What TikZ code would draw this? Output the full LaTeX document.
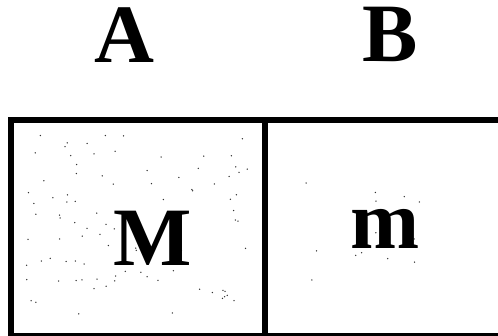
\documentclass[tikz,border=0pt]{standalone}
\usepackage{fontspec}
\setmainfont{Liberation Serif}
\usetikzlibrary{positioning}

\begin{document}
\begin{tikzpicture}[
        x=1pt, y=-1pt,
        wall/.style={draw=black, line width=6pt},
        letter/.style={anchor=base, inner sep=0pt, text height=55pt, text depth=0pt,
            font=\fontsize{83}{83}\bfseries\selectfont},
        speck/.style={fill=black!80, draw=none}
    ]
        \useasboundingbox (0,0) rectangle (498,335);
        \clip (0,0) rectangle (498,335);

        % labels above the cells
        \node[letter] (labelA) at (124.5,62) {A};
        \node[letter] (labelB) at (390,61) {B};

        % the two cells
        \draw[wall] (11,119.5) rectangle (264.5,336);
        \draw[wall] (264.5,119.5) rectangle (502,336);

        % speckles in cell A
        \pgfmathsetseed{4127}
        \foreach \i in {1,...,95}
            \fill[speck] ({22+228*rnd},{134+180*rnd}) circle (0.75);
        % speckles around m
        \foreach \i in {1,...,16}
            \fill[speck] ({300+130*rnd},{170+120*rnd}) circle (0.75);

        \node[letter] (massA) at (152.5,265) {M};
        \node[letter] (massB) at (385,248) {m};
    \end{tikzpicture}
\end{document}
